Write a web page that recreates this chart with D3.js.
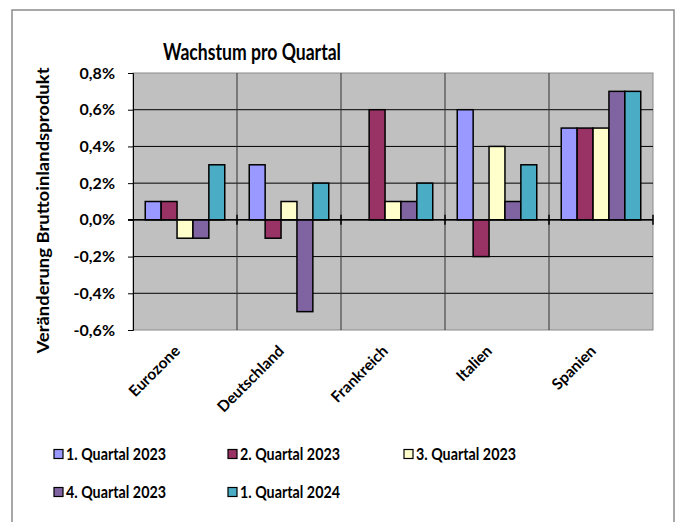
<!DOCTYPE html>
<html>
<head>
<meta charset="utf-8">
<script src="https://cdn.jsdelivr.net/npm/d3@7"></script>
<style>
  body { margin: 0; background: #fff; }
  svg text { font-family: Lato, "Open Sans", sans-serif; font-weight: bold; fill: #000; }
</style>
</head>
<body>
<div id="chart"></div>
<script>
// data
const countries = ["Eurozone", "Deutschland", "Frankreich", "Italien", "Spanien"];
const seriesNames = ["1. Quartal 2023", "2. Quartal 2023", "3. Quartal 2023", "4. Quartal 2023", "1. Quartal 2024"];
const q1_2023 = [0.1, 0.3, 0.0, 0.6, 0.5];
const q2_2023 = [0.1, -0.1, 0.6, -0.2, 0.5];
const q3_2023 = [-0.1, 0.1, 0.1, 0.4, 0.5];
const q4_2023 = [-0.1, -0.5, 0.1, 0.1, 0.7];
const q1_2024 = [0.3, 0.2, 0.2, 0.3, 0.7];
const yTicks = [0.8, 0.6, 0.4, 0.2, 0.0, -0.2, -0.4, -0.6];
const colors = ["#9999FF", "#993366", "#FFFFCC", "#8064A2", "#4BACC6"];

const allSeries = [q1_2023, q2_2023, q3_2023, q4_2023, q1_2024];

const width = 678, height = 522;
const plot = {left: 133, right: 653, top: 73, bottom: 330};

const svg = d3.select("#chart").append("svg")
  .attr("width", width)
  .attr("height", height);

// outer frame (bottom edge is cut off in the original)
svg.append("path")
  .attr("d", `M12,${height + 2} L12,10 L674,10 L674,${height + 2}`)
  .attr("fill", "none")
  .attr("stroke", "#8c8c8c")
  .attr("stroke-width", 1.5);

// scales
const x0 = d3.scaleBand()
  .domain(countries)
  .range([plot.left, plot.right])
  .paddingInner(0).paddingOuter(0);

const x1 = d3.scaleBand()
  .domain(seriesNames)
  .range([0, x0.bandwidth()])
  .paddingInner(0)
  .paddingOuter(0.77);

const y = d3.scaleLinear()
  .domain([-0.6, 0.8])
  .range([plot.bottom, plot.top]);

// plot background
svg.append("rect")
  .attr("x", plot.left).attr("y", plot.top)
  .attr("width", plot.right - plot.left)
  .attr("height", plot.bottom - plot.top)
  .attr("fill", "#c0c0c0")
  .attr("stroke", "#8a8a8a")
  .attr("stroke-width", 1);

// horizontal gridlines
svg.append("g")
  .selectAll("line")
  .data(yTicks.filter(d => d !== 0.8 && d !== -0.6))
  .join("line")
  .attr("x1", plot.left).attr("x2", plot.right)
  .attr("y1", d => y(d)).attr("y2", d => y(d))
  .attr("stroke", "#000").attr("stroke-width", 1);

// vertical gridlines between categories
svg.append("g")
  .selectAll("line")
  .data(countries.slice(1))
  .join("line")
  .attr("x1", d => x0(d)).attr("x2", d => x0(d))
  .attr("y1", plot.top).attr("y2", plot.bottom)
  .attr("stroke", "#333").attr("stroke-width", 1);

// y axis
const yAxis = svg.append("g")
  .attr("transform", `translate(${plot.left},0)`)
  .call(d3.axisLeft(y)
    .tickValues(yTicks)
    .tickSize(5)
    .tickPadding(13)
    .tickFormat(d => d3.format(".1f")(d).replace("−", "-").replace(".", ",") + "%"));
yAxis.select(".domain").attr("stroke", "#000");
yAxis.selectAll("text").attr("font-size", 16);
yAxis.selectAll("line").attr("stroke", "#000");

// bars
const groups = svg.append("g")
  .selectAll("g")
  .data(countries)
  .join("g")
  .attr("transform", d => `translate(${x0(d)},0)`);

groups.selectAll("rect")
  .data((c, i) => allSeries.map((s, k) => ({name: seriesNames[k], value: s[i], color: colors[k]})))
  .join("rect")
  .attr("x", d => x1(d.name))
  .attr("width", x1.bandwidth())
  .attr("y", d => y(Math.max(0, d.value)))
  .attr("height", d => Math.abs(y(d.value) - y(0)))
  .attr("fill", d => d.color)
  .attr("stroke", "#000")
  .attr("stroke-width", 1.5);

// zero line with category ticks
svg.append("line")
  .attr("x1", plot.left - 5).attr("x2", plot.right)
  .attr("y1", y(0)).attr("y2", y(0))
  .attr("stroke", "#000").attr("stroke-width", 1.5);
svg.append("g")
  .selectAll("line")
  .data(countries.slice(1).map(d => x0(d)).concat([plot.right]))
  .join("line")
  .attr("x1", d => d).attr("x2", d => d)
  .attr("y1", y(0) - 5).attr("y2", y(0) + 5)
  .attr("stroke", "#000").attr("stroke-width", 1.5);

// category labels
svg.append("g")
  .selectAll("text")
  .data(countries)
  .join("text")
  .attr("transform", d => `translate(${x0(d) + x0.bandwidth() / 2 - 4},${plot.bottom + 22}) rotate(-45)`)
  .attr("text-anchor", "end")
  .attr("font-size", 15.5)
  .text(d => d);

// title
svg.append("text")
  .attr("x", 252).attr("y", 60)
  .attr("text-anchor", "middle")
  .attr("font-size", 22)
  .attr("textLength", 178)
  .attr("lengthAdjust", "spacingAndGlyphs")
  .text("Wachstum pro Quartal");

// y axis title
svg.append("text")
  .attr("transform", `translate(49,${(plot.top + plot.bottom) / 2 + 9}) rotate(-90)`)
  .attr("text-anchor", "middle")
  .attr("font-size", 17.5)
  .attr("textLength", 286)
  .attr("lengthAdjust", "spacingAndGlyphs")
  .text("Veränderung Bruttoinlandsprodukt");

// legend
const legendPos = [[54, 454], [228, 454], [404, 454], [54, 492], [228, 492]];
const legend = svg.append("g")
  .selectAll("g")
  .data(seriesNames)
  .join("g")
  .attr("transform", (d, i) => `translate(${legendPos[i][0]},${legendPos[i][1]})`);
legend.append("rect")
  .attr("x", 0).attr("y", -4.5)
  .attr("width", 9).attr("height", 9)
  .attr("fill", (d, i) => colors[i])
  .attr("stroke", "#000").attr("stroke-width", 1.2);
legend.append("text")
  .attr("x", 12).attr("y", 6)
  .attr("font-size", 17)
  .attr("textLength", 100)
  .attr("lengthAdjust", "spacingAndGlyphs")
  .text(d => d);
</script>
</body>
</html>
